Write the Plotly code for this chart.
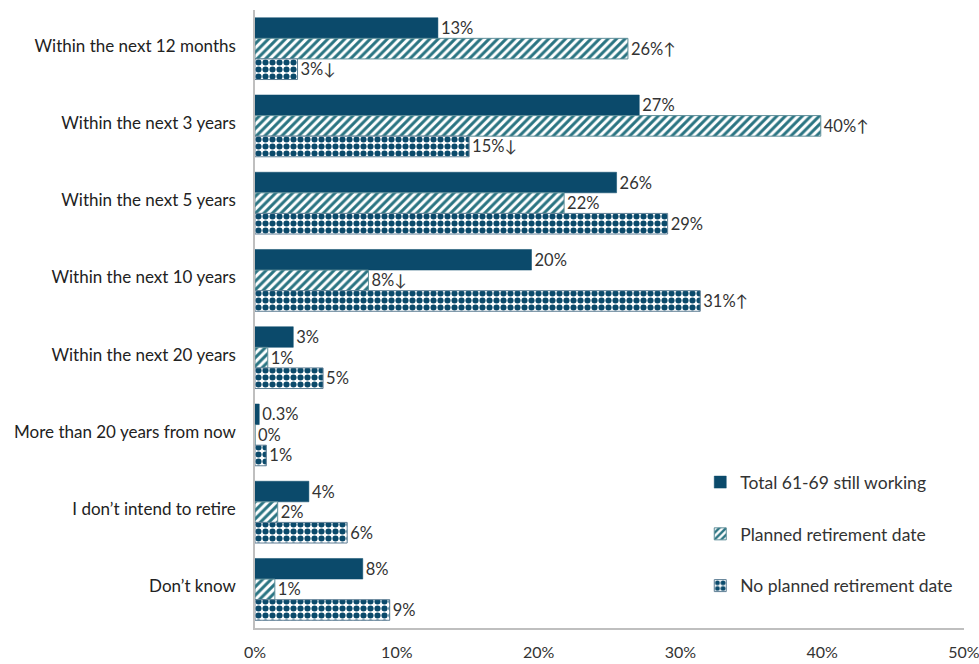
import plotly.graph_objects as go

categories = [
    "Within the next 12 months",
    "Within the next 3 years",
    "Within the next 5 years",
    "Within the next 10 years",
    "Within the next 20 years",
    "More than 20 years from now",
    "I don\u2019t intend to retire",
    "Don\u2019t know",
]
series_names = ["Total 61-69 still working", "Planned retirement date", "No planned retirement date"]

total_vals = [12.9, 27.1, 25.5, 19.5, 2.7, 0.3, 3.8, 7.6]
planned_vals = [26.3, 39.9, 21.8, 8.0, 0.9, 0.0, 1.6, 1.4]
noplan_vals = [3.0, 15.1, 29.1, 31.4, 4.8, 0.8, 6.5, 9.5]

total_labels = ["13%", "27%", "26%", "20%", "3%", "0.3%", "4%", "8%"]
planned_labels = ["26%\u2191", "40%\u2191", "22%", "8%\u2193", "1%", "0%", "2%", "1%"]
noplan_labels = ["3%\u2193", "15%\u2193", "29%", "31%\u2191", "5%", "1%", "6%", "9%"]

x_ticks = [0, 10, 20, 30, 40, 50]
x_tick_text = ["0%", "10%", "20%", "30%", "40%", "50%"]

NAVY = "#0B4A6B"
TEAL = "#2A7482"
FONT = "Lato, 'Open Sans', sans-serif"
TXT = "#333333"

fig = go.Figure()
fig.add_trace(go.Bar(
    y=categories, x=total_vals, orientation="h", name=series_names[0],
    text=total_labels, textposition="outside", cliponaxis=False,
    textfont=dict(family=FONT, size=16.5, color=TXT),
    marker=dict(color=NAVY, line=dict(color=NAVY, width=0.5)),
    legendgroup="a",
))
fig.add_trace(go.Bar(
    y=categories, x=planned_vals, orientation="h", name=series_names[1],
    text=planned_labels, textposition="outside", cliponaxis=False,
    textfont=dict(family=FONT, size=16.5, color=TXT),
    marker=dict(color="white", line=dict(color="#5F8F99", width=1),
                pattern=dict(shape="/", fgcolor=TEAL, bgcolor="white", fgopacity=1,
                             size=6, solidity=0.5)),
    legendgroup="b",
))
fig.add_trace(go.Bar(
    y=categories, x=noplan_vals, orientation="h", name=series_names[2],
    text=noplan_labels, textposition="outside", cliponaxis=False,
    textfont=dict(family=FONT, size=16.5, color=TXT),
    marker=dict(color="white", line=dict(color="#5F7F95", width=1),
                pattern=dict(shape=".", fgcolor=NAVY, bgcolor="white", fgopacity=1,
                             size=7, solidity=0.6)),
    legendgroup="c",
))

fig.update_layout(
    width=979, height=664,
    margin=dict(l=255, r=15, t=10, b=36),
    paper_bgcolor="white", plot_bgcolor="white",
    barmode="group", bargap=0.2, bargroupgap=0,
    font=dict(family=FONT, size=16.5, color=TXT),
    showlegend=True,
    legend=dict(
        x=0.628, y=0.265, xanchor="left", yanchor="top",
        font=dict(family=FONT, size=17.5, color=TXT),
        tracegroupgap=26, traceorder="grouped",
        bgcolor="rgba(0,0,0,0)",
    ),
    xaxis=dict(
        range=[0, 50], tickvals=x_ticks, ticktext=x_tick_text,
        showgrid=False, zeroline=False, automargin=False,
        ticklabeloverflow="allow",
        showline=True, linecolor="#BFBFBF", linewidth=1.5,
        ticks="outside", ticklen=9, tickcolor="rgba(0,0,0,0)",
        tickfont=dict(family=FONT, size=16, color=TXT),
    ),
    yaxis=dict(
        autorange="reversed", showgrid=False, zeroline=False, automargin=False,
        showline=True, linecolor="#BFBFBF", linewidth=1.5,
        ticks="outside", ticklen=14, tickcolor="rgba(0,0,0,0)",
        ticklabelshift=3,
        tickfont=dict(family=FONT, size=17, color="#222222"),
    ),
)

fig.write_html(
    "out.html",
    config={"displayModeBar": False},
    post_script="document.body.style.margin='0';document.body.style.overflow='hidden';",
)
